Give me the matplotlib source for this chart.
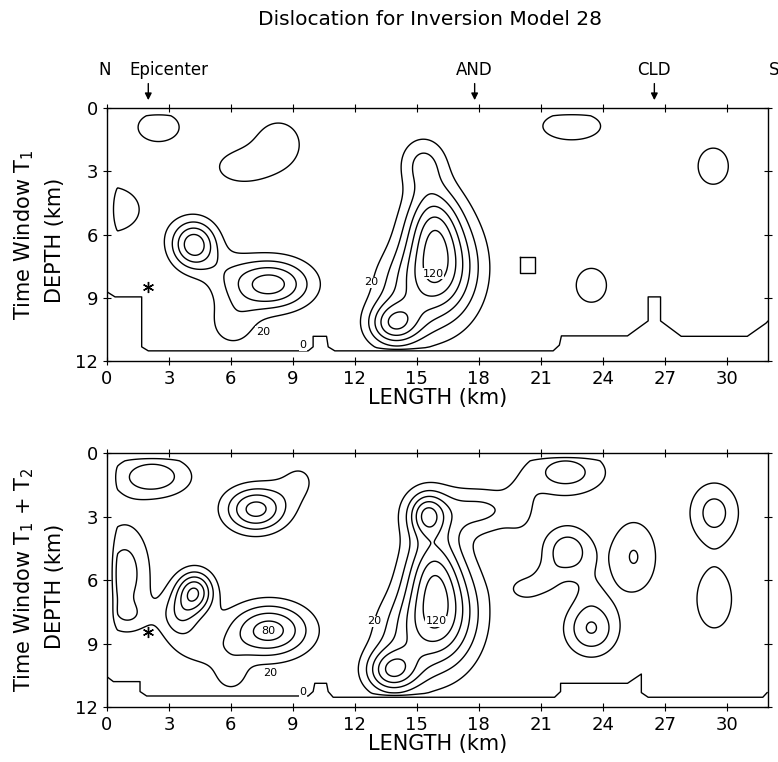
import numpy as np
import matplotlib.pyplot as plt

# slip patches: x (km), depth (km), peak (cm), spread x, spread z
t1_x = [2.5, 8.3, 6.4, 0.1, 4.2, 7.9, 6.1, 5.6, 16.3, 15.6, 15.8, 15.3, 13.9, 14.0, 22.5, 23.45, 29.35]
t1_z = [0.9, 1.7, 2.8, 4.8, 6.45, 8.35, 10.2, 7.6, 7.6, 7.8, 5.3, 2.6, 10.25, 8.5, 0.85, 8.4, 2.75]
t1_amp = [30, 30, 28, 32, 93, 90, 30, 15, 85, 38, 55, 42, 88, 30, 30, 30, 30]
t1_sx = [1.1, 1.1, 1.1, 1.5, 0.78, 1.4, 0.9, 1.0, 1.3, 1.0, 0.9, 0.8, 0.9, 1.0, 1.55, 0.81, 0.81]
t1_sz = [0.75, 1.1, 0.7, 1.1, 0.8, 0.85, 0.9, 0.8, 1.8, 1.8, 1.3, 0.9, 0.75, 1.2, 0.72, 0.89, 0.95]

t2_x = [2.2, 7.2, 9.3, 0.85, 1.1, 4.25, 3.5, 7.85, 4.8, 6.0, 16.3, 15.6, 15.8, 15.5, 15.8, 13.8, 14.0,
        18.3, 20.0, 22.2, 22.3, 23.45, 20.3, 21.3, 23.4, 25.5, 29.4, 29.4]
t2_z = [1.1, 2.65, 1.3, 5.7, 7.7, 6.55, 7.7, 8.38, 9.3, 10.5, 7.6, 7.8, 5.3, 2.9, 2.8, 10.3, 8.5,
        2.7, 2.5, 0.9, 4.65, 8.3, 6.4, 5.9, 6.5, 4.9, 2.8, 6.9]
t2_amp = [55, 88, 22, 50, 20, 95, 50, 90, 25, 28, 85, 38, 55, 62, 35, 92, 30,
          40, 20, 50, 55, 61, 26, 18, 14, 41, 48, 32]
t2_sx = [1.33, 1.05, 0.9, 0.9, 0.8, 0.65, 0.7, 1.4, 1.3, 0.6, 1.3, 1.0, 0.9, 0.6, 1.2, 0.9, 1.0,
         1.2, 0.5, 1.42, 0.85, 0.9, 0.7, 0.5, 0.6, 0.88, 0.88, 0.86]
t2_sz = [0.72, 0.75, 0.9, 1.7, 0.5, 0.7, 0.8, 0.9, 0.7, 0.6, 1.8, 1.8, 1.3, 0.7, 1.0, 0.75, 1.2,
         0.75, 0.9, 0.8, 0.85, 0.9, 0.5, 0.5, 0.8, 1.35, 1.05, 1.4]

# zero-slip outline along the bottom of the fault
t1_edge_x = [0.0, 0.39, 1.68, 1.68, 2.0, 9.74, 9.98, 9.98, 10.63, 10.71, 11.03, 21.6, 21.9, 22.0,
             25.2, 26.2, 26.2, 26.8, 26.8, 27.8, 31.0, 31.9, 32.0]
t1_edge_z = [8.71, 8.95, 8.95, 11.32, 11.51, 11.51, 11.32, 10.82, 10.82, 11.32, 11.51, 11.51, 11.24, 10.8,
             10.8, 10.09, 8.95, 8.95, 10.09, 10.82, 10.82, 10.2, 10.1]
t1_box_x = [20.0, 20.7, 20.7, 20.0, 20.0]
t1_box_z = [7.05, 7.05, 7.8, 7.8, 7.05]

t2_edge_x = [0.0, 0.31, 1.6, 1.6, 1.92, 9.74, 9.98, 10.06, 10.63, 10.71, 10.95, 21.67, 21.96, 21.96,
             25.2, 25.87, 25.87, 26.2, 31.75, 31.96]
t2_edge_z = [10.57, 10.8, 10.8, 11.27, 11.48, 11.48, 11.27, 10.88, 10.88, 11.27, 11.54, 11.54, 11.27, 10.88,
             10.88, 10.44, 11.32, 11.54, 11.54, 11.32]

levels = [20, 40, 60, 80, 100, 120, 140]
x_ticks = [0, 3, 6, 9, 12, 15, 18, 21, 24, 27, 30]
z_ticks = [0, 3, 6, 9, 12]


def slip(X, Z, xs, zs, amps, sxs, szs):
    F = np.zeros_like(X)
    for x0, z0, a, sx, sz in zip(xs, zs, amps, sxs, szs):
        F += a * np.exp(-0.5 * (((X - x0) / sx) ** 2 + ((Z - z0) / sz) ** 2))
    # slip falls to zero at the fault edges
    F *= np.clip(X / 0.5, 0, 1) * np.clip((32 - X) / 0.3, 0, 1)
    F *= np.clip(Z / 0.35, 0, 1) * np.clip((11.62 - Z) / 0.27, 0, 1)
    return F


xg = np.linspace(0, 32, 801)
zg = np.linspace(0, 12, 301)
X, Z = np.meshgrid(xg, zg)

fig = plt.figure(figsize=(7.78, 7.62), dpi=100)
ax1 = fig.add_axes([0.1375, 0.526, 0.8496, 0.332])
ax2 = fig.add_axes([0.1375, 0.0722, 0.8496, 0.333])

panels = [
    (ax1, slip(X, Z, t1_x, t1_z, t1_amp, t1_sx, t1_sz), t1_edge_x, t1_edge_z),
    (ax2, slip(X, Z, t2_x, t2_z, t2_amp, t2_sx, t2_sz), t2_edge_x, t2_edge_z),
]
for ax, F, ex, ez in panels:
    ax.contour(X, Z, F, levels=levels, colors='k', linewidths=1.0)
    ax.plot(ex, ez, color='k', lw=1.0)
    ax.set_xlim(0, 32)
    ax.set_ylim(12, 0)
    ax.set_xticks(x_ticks)
    ax.set_yticks(z_ticks)
    ax.tick_params(direction='inout', length=6, top=True, right=True, labelsize=13)
    ax.set_xlabel('LENGTH (km)', fontsize=15, labelpad=0)
    for s in ax.spines.values():
        s.set_linewidth(1.0)

ax1.plot(t1_box_x, t1_box_z, color='k', lw=1.0)
ax1.plot([2.0], [8.5], marker=(6, 2, 0), color='k', ms=8, lw=0)
ax2.plot([2.0], [8.44], marker=(6, 2, 0), color='k', ms=8, lw=0)

lab = dict(fontsize=8, ha='center', va='center', bbox=dict(fc='white', ec='none', pad=0.3))
ax1.text(12.8, 8.25, '20', **lab)
ax1.text(15.8, 7.85, '120', **lab)
ax1.text(7.55, 10.6, '20', **lab)
ax1.text(9.5, 11.25, '0', **lab)
ax2.text(12.95, 7.95, '20', **lab)
ax2.text(15.95, 7.95, '120', **lab)
ax2.text(7.8, 8.4, '80', **lab)
ax2.text(7.9, 10.4, '20', **lab)
ax2.text(9.5, 11.3, '0', **lab)

fig.text(0.553, 0.975, 'Dislocation for Inversion Model 28', ha='center', va='center', fontsize=14.5)

# site markers above the top panel
ax1.text(-0.1, -1.8, 'N', ha='center', va='center', fontsize=12, clip_on=False)
ax1.text(32.3, -1.8, 'S', ha='center', va='center', fontsize=12, clip_on=False)
for xm, name in [(2.0, 'Epicenter'), (17.8, 'AND'), (26.5, 'CLD')]:
    tx = 3.0 if name == 'Epicenter' else xm
    ax1.text(tx, -1.8, name, ha='center', va='center', fontsize=12, clip_on=False)
    ax1.annotate('', xy=(xm, -0.25), xytext=(xm, -1.3), annotation_clip=False,
                 arrowprops=dict(arrowstyle='-|>', color='k', lw=1.0, mutation_scale=10))

for ax, tlabel in [(ax1, r'Time Window T$_{\mathregular{1}}$'),
                   (ax2, r'Time Window T$_{\mathregular{1}}$ + T$_{\mathregular{2}}$')]:
    pos = ax.get_position()
    yc = (pos.y0 + pos.y1) / 2
    fig.text(24 / 778, yc, tlabel, rotation=90, ha='center', va='center', fontsize=15)
    fig.text(55 / 778, yc - 0.008, 'DEPTH (km)', rotation=90, ha='center', va='center', fontsize=15)

fig.savefig('out.png', dpi=100)
